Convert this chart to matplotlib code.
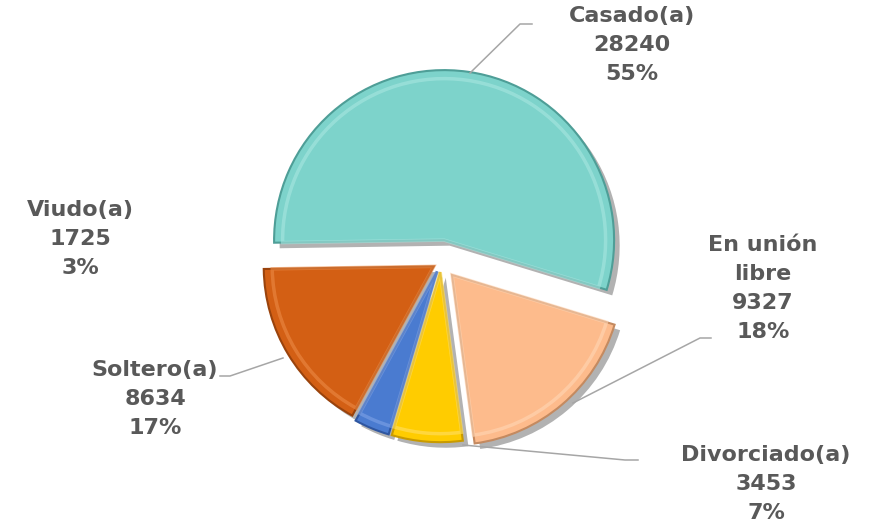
import matplotlib.pyplot as plt
import matplotlib.patheffects as pe

# data
categorias = ['Casado(a)', 'Soltero(a)', 'Viudo(a)', 'Divorciado(a)', 'En unión\nlibre']
valores = [28240, 8634, 1725, 3453, 9327]
colores = ['#7DD3CB', '#D35F14', '#4A7BD0', '#FFCC00', '#FDBB8C']
bordes = ['#4E9E97', '#9A430C', '#2F56A0', '#C89A00', '#C48A60']
brillo = ['#A8E6E0', '#EC8A45', '#7EA3E6', '#FFE066', '#FFD6B5']
separar = [0.13, 0.05, 0.06, 0.06, 0.10]

total = sum(valores)
pct = [round(v * 100 / total) for v in valores]

W, H = 875, 527
R = 170.0        # pie radius in px
cx, cy = 441, 262  # pie center in px (from top)

fig = plt.figure(figsize=(W / 100, H / 100), dpi=100)
ax = fig.add_axes([0, 0, 1, 1])

def px(x, y):
    # pixel coords (top-left origin) -> data coords
    return (x - cx) / R, (H - y - (H - cy)) / R

wedges, _ = ax.pie(valores, colors=colores, startangle=-17, counterclock=True,
                   explode=separar, radius=1.0,
                   wedgeprops=dict(linewidth=1.5))
for w, b in zip(wedges, bordes):
    w.set_edgecolor(b)
    w.set_path_effects([pe.SimplePatchShadow(offset=(4, -4), shadow_rgbFace='#555555', alpha=0.45),
                        pe.Normal()])

# inner bevel highlight
inner, _ = ax.pie(valores, colors=['none'] * 5, startangle=-17, counterclock=True,
                  explode=separar, radius=0.95,
                  wedgeprops=dict(linewidth=2.5, fill=False))
for w, c in zip(inner, brillo):
    w.set_edgecolor(c)
    w.set_alpha(0.6)

ax.set_xlim(-cx / R, (W - cx) / R)
ax.set_ylim(-(H - cy) / R, cy / R)
ax.set_aspect('auto')
ax.axis('off')

# labels: (center x, first line y) in px
pos = {
    'Casado(a)': (632, 16),
    'Soltero(a)': (155, 370),
    'Viudo(a)': (80, 210),
    'Divorciado(a)': (766, 455),
    'En unión\nlibre': (763, 245),
}
gap = 29
for cat, v, p in zip(categorias, valores, pct):
    x0, y0 = pos[cat]
    lineas = cat.split('\n') + [str(v), f'{p}%']
    for i, t in enumerate(lineas):
        tx, ty = px(x0, y0 + i * gap)
        ax.text(tx, ty, t, ha='center', va='center', fontsize=16,
                fontweight='bold', color='#595959', family='DejaVu Sans')

# leader lines (px)
guias = [
    [(470, 73), (520, 24), (532, 24)],
    [(573, 403), (700, 338), (711, 338)],
    [(463, 445), (625, 460), (638, 460)],
    [(283, 358), (230, 376), (220, 376)],
]
for g in guias:
    xs, ys = zip(*[px(a, b) for a, b in g])
    ax.plot(xs, ys, color='#A6A6A6', linewidth=1.1)

fig.savefig('out.png', dpi=100)
